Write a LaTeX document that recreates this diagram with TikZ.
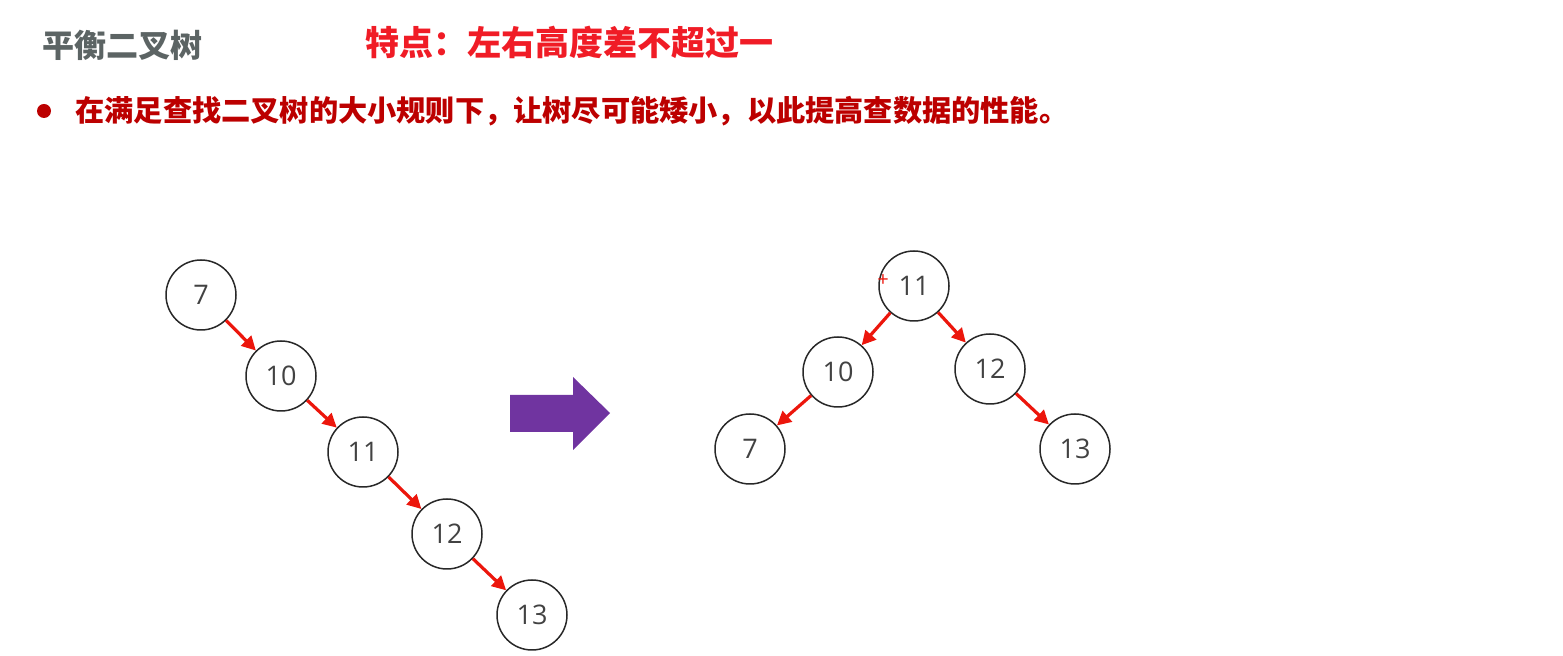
\documentclass[tikz,border=0pt]{standalone}
\usepackage{fontspec}
\setmainfont{Open Sans}
\newfontfamily\cjk{Noto Sans CJK SC}
\usetikzlibrary{arrows.meta}
\definecolor{titlegrey}{RGB}{92,100,100}
\definecolor{hotred}{RGB}{240,28,38}
\definecolor{darkred}{RGB}{188,0,0}
\definecolor{linkred}{RGB}{236,22,12}
\definecolor{ringgrey}{RGB}{40,40,40}
\definecolor{numgrey}{RGB}{66,66,66}
\definecolor{purpleacc}{RGB}{112,52,160}
\tikzset{
  keynode/.style ={circle, draw=ringgrey, line width=0.75pt, minimum size=35pt,
                   inner sep=0pt, font=\fontsize{13.5}{15}\selectfont, text=numgrey},
  link/.style    ={-{Triangle[length=7pt,width=7pt]}, draw=linkred, line width=1.6pt},
  headtxt/.style ={anchor=west, inner sep=0pt, font=\cjk\bfseries},
}

\begin{document}
\begin{tikzpicture}[x=0.5pt,y=-0.5pt]
\useasboundingbox (0,0) rectangle (1563,656);
% ---------- heading ----------
\node[headtxt,text=titlegrey,font=\cjk\bfseries\fontsize{16}{18}\selectfont] (title) at (42,45) {平衡二叉树};
\node[headtxt,text=hotred,font=\cjk\bfseries\fontsize{17}{19}\selectfont] (feature) at (365,42) {特点：左右高度差不超过一};
\fill[darkred] (44,111) circle (7);
\node[headtxt,text=darkred,font=\cjk\bfseries\fontsize{14.6}{16}\selectfont] (rule) at (75,111)
  {在满足查找二叉树的大小规则下，让树尽可能矮小，以此提高查数据的性能。};

% ---------- left: degenerate chain ----------
\foreach \v/\x/\y in {7/201/295, 10/281/376, 11/363/452, 12/447/534, 13/532/615}{
  \node[keynode] (l\v) at (\x,\y) {\v};
}
\foreach \a/\b in {7/10, 10/11, 11/12, 12/13}{
  \draw[link] (l\a) -- (l\b);
}

% ---------- big arrow ----------
\fill[purpleacc] (510,395) -- (573,395) -- (573,377) -- (610,413) -- (573,450)
  -- (573,432) -- (510,432) -- cycle;

% ---------- right: balanced tree ----------
\foreach \v/\x/\y in {11/914/286, 10/838/372, 12/990/369, 7/750/449, 13/1075/449}{
  \node[keynode] (r\v) at (\x,\y) {\v};
}
\foreach \a/\b in {11/10, 11/12, 10/7, 12/13}{
  \draw[link] (r\a) -- (r\b);
}
\node[text=linkred,inner sep=0pt,font=\fontsize{10}{11}\selectfont] (mark) at (883,281) {+};
\end{tikzpicture}
\end{document}
